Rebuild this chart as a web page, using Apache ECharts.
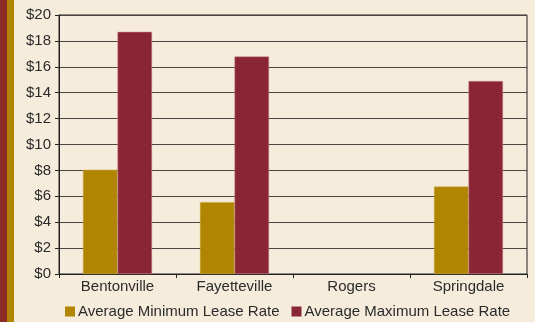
<!DOCTYPE html>
<html>
<head>
<meta charset="utf-8">
<script src="https://cdn.jsdelivr.net/npm/echarts@6/dist/echarts.min.js"></script>
<style>
  html, body { margin: 0; padding: 0; background: #f5ecdc; }
  #wrap { position: relative; width: 535px; height: 322px; background: #f5ecdc; overflow: hidden; }
  #stripRed { position: absolute; left: 0; top: 0; width: 7px; height: 322px; background: #8b2b24; }
  #stripGold { position: absolute; left: 7px; top: 0; width: 7px; height: 322px; background: #b08600; }
  #chart { position: absolute; left: 0; top: 0; width: 535px; height: 322px; }
</style>
</head>
<body>
<div id="wrap">
  <div id="stripRed"></div>
  <div id="stripGold"></div>
  <div id="chart"></div>
</div>
<script>
// Lease rates by city ($ per sq ft)
const cities = ['Bentonville', 'Fayetteville', 'Rogers', 'Springdale'];
const minLeaseRate = [8.05, 5.55, null, 6.75];
const maxLeaseRate = [18.7, 16.8, null, 14.9];
const yTicks = [0, 2, 4, 6, 8, 10, 12, 14, 16, 18, 20];

const chart = echarts.init(document.getElementById('chart'), null, { renderer: 'canvas' });
const font = 'Liberation Sans, Arial, sans-serif';
const textColor = '#2b2b2b';

chart.setOption({
  backgroundColor: 'transparent',
  animation: false,
  grid: { left: 59, right: 8, top: 15, bottom: 48, show: true, borderColor: '#222', borderWidth: 1, containLabel: false },
  legend: {
    top: 299,
    left: 60,
    itemWidth: 10,
    itemHeight: 10,
    itemGap: 12,
    icon: 'rect',
    itemStyle: { borderWidth: 0 },
    textStyle: { fontFamily: font, fontSize: 15, color: textColor, padding: [0, 0, 0, -2] },
    data: ['Average Minimum Lease Rate', 'Average Maximum Lease Rate']
  },
  xAxis: {
    type: 'category',
    data: cities,
    axisLine: { lineStyle: { color: '#222', width: 1 } },
    axisTick: { show: true, alignWithLabel: false, length: 4, lineStyle: { color: '#222' } },
    axisLabel: { fontFamily: font, fontSize: 15, color: textColor, margin: 5 }
  },
  yAxis: {
    type: 'value',
    min: yTicks[0],
    max: yTicks[yTicks.length - 1],
    interval: yTicks[1] - yTicks[0],
    axisLine: { show: true, lineStyle: { color: '#222', width: 1 } },
    axisTick: { show: true, length: 4, inside: false, lineStyle: { color: '#222' } },
    axisLabel: { fontFamily: font, fontSize: 15, color: textColor, margin: 8, formatter: v => '$' + v },
    splitLine: { lineStyle: { color: '#4a4540', width: 1 } }
  },
  series: [
    {
      name: 'Average Minimum Lease Rate',
      type: 'bar',
      data: minLeaseRate,
      barGap: '0%',
      barCategoryGap: '41%',
      itemStyle: { color: '#b08600', borderColor: '#c9a640', borderWidth: 0.5 }
    },
    {
      name: 'Average Maximum Lease Rate',
      type: 'bar',
      data: maxLeaseRate,
      barGap: '0%',
      barCategoryGap: '41%',
      itemStyle: { color: '#8a2634', borderColor: '#c98a90', borderWidth: 0.5 }
    }
  ]
});
</script>
</body>
</html>
